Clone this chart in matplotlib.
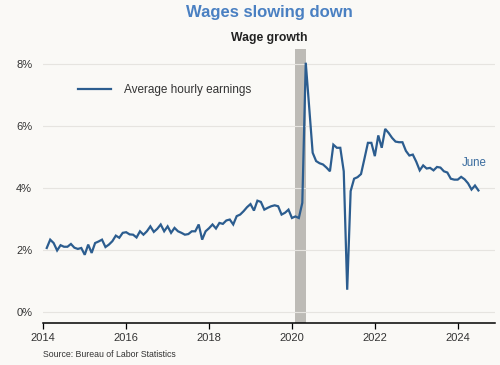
import matplotlib
matplotlib.use('Agg')
import matplotlib.pyplot as plt
import numpy as np
import pandas as pd

plt.rcParams['font.family'] = ['Liberation Sans', 'DejaVu Sans']

# Average hourly earnings, year-over-year growth (%), monthly Jan 2014 - Jun 2024
ahe_2014 = [2.06, 2.33, 2.22, 1.98, 2.15, 2.10, 2.10, 2.19, 2.07, 2.03, 2.06, 1.84]
ahe_2015 = [2.17, 1.90, 2.22, 2.27, 2.33, 2.09, 2.17, 2.28, 2.46, 2.39, 2.55, 2.57]
ahe_2016 = [2.50, 2.49, 2.40, 2.60, 2.49, 2.60, 2.76, 2.58, 2.68, 2.82, 2.60, 2.76]
ahe_2017 = [2.55, 2.71, 2.60, 2.55, 2.49, 2.51, 2.60, 2.60, 2.82, 2.33, 2.60, 2.70]
ahe_2018 = [2.82, 2.69, 2.87, 2.84, 2.95, 2.98, 2.82, 3.09, 3.14, 3.25, 3.38, 3.48]
ahe_2019 = [3.27, 3.59, 3.55, 3.30, 3.36, 3.41, 3.44, 3.41, 3.14, 3.20, 3.30, 3.03]
ahe_2020 = [3.08, 3.03, 3.52, 8.05, 6.60, 5.14, 4.87, 4.80, 4.76, 4.66, 4.54, 5.40]
ahe_2021 = [5.30, 5.30, 4.54, 0.71, 3.90, 4.30, 4.35, 4.45, 4.95, 5.46, 5.46, 5.03]
ahe_2022 = [5.70, 5.30, 5.91, 5.78, 5.62, 5.50, 5.48, 5.48, 5.20, 5.05, 5.08, 4.85]
ahe_2023 = [4.57, 4.73, 4.63, 4.65, 4.57, 4.68, 4.66, 4.54, 4.50, 4.30, 4.27, 4.27]
ahe_2024 = [4.36, 4.28, 4.15, 3.95, 4.08, 3.92]

# recession shading (Feb 2020 - Apr 2020)
recession = (2020 + 1 / 12, 2020 + 4 / 12)

year_ticks = [2014, 2016, 2018, 2020, 2022, 2024]
pct_ticks = [0, 2, 4, 6, 8]

values = (ahe_2014 + ahe_2015 + ahe_2016 + ahe_2017 + ahe_2018 + ahe_2019
          + ahe_2020 + ahe_2021 + ahe_2022 + ahe_2023 + ahe_2024)
months = pd.date_range('2014-01-01', periods=len(values), freq='MS')
# points sit at the end of each month
x = months.year + months.month / 12

bg = '#faf9f6'
line_color = '#2c5d8f'
text_color = '#333333'

fig = plt.figure(figsize=(5, 3.65), dpi=100, facecolor=bg)
ax = fig.add_axes([0.0866, 0.1151, 0.9034, 0.752], facecolor=bg)

ax.axvspan(recession[0], recession[1], color='#bdbbb6', lw=0, zorder=1)
ax.plot(x, values, color=line_color, lw=1.6, zorder=3,
        label='Average hourly earnings', solid_joinstyle='miter')

ax.set_xlim(2014, 2024.9)
ax.set_ylim(-0.365, 8.51)
ax.set_xticks(year_ticks)
ax.set_xticklabels([str(y) for y in year_ticks])
ax.set_yticks(pct_ticks)
ax.set_yticklabels([f'{p}%' for p in pct_ticks])

ax.grid(axis='y', color='#e6e4e0', lw=0.8, zorder=0)
for side in ['top', 'right', 'left']:
    ax.spines[side].set_visible(False)
ax.spines['bottom'].set_color('black')
ax.spines['bottom'].set_linewidth(1.1)
ax.tick_params(axis='x', length=4, width=0.9, color='black', labelsize=8,
               labelcolor=text_color, pad=3)
ax.tick_params(axis='y', length=0, labelsize=8, labelcolor=text_color, pad=8)

ax.legend(loc='upper left', bbox_to_anchor=(0.054, 0.91), frameon=False,
          fontsize=8.5, labelcolor=text_color, handlelength=2.8,
          handletextpad=1.05)

ax.text(2024.4, 4.8, 'June', color='#3a6c9e', fontsize=8.3, ha='center',
        va='center')

fig.text(0.538, 0.967, 'Wages slowing down', color='#4a80c2', fontsize=12,
         fontweight='bold', ha='center', va='center')
fig.text(0.538, 0.895, 'Wage growth', color='#222222', fontsize=8.8,
         fontweight='bold', ha='center', va='center')
fig.text(0.0866, 0.028, 'Source: Bureau of Labor Statistics', color=text_color,
         fontsize=6.3, ha='left', va='center')

fig.savefig('out.png', dpi=100, facecolor=bg)
